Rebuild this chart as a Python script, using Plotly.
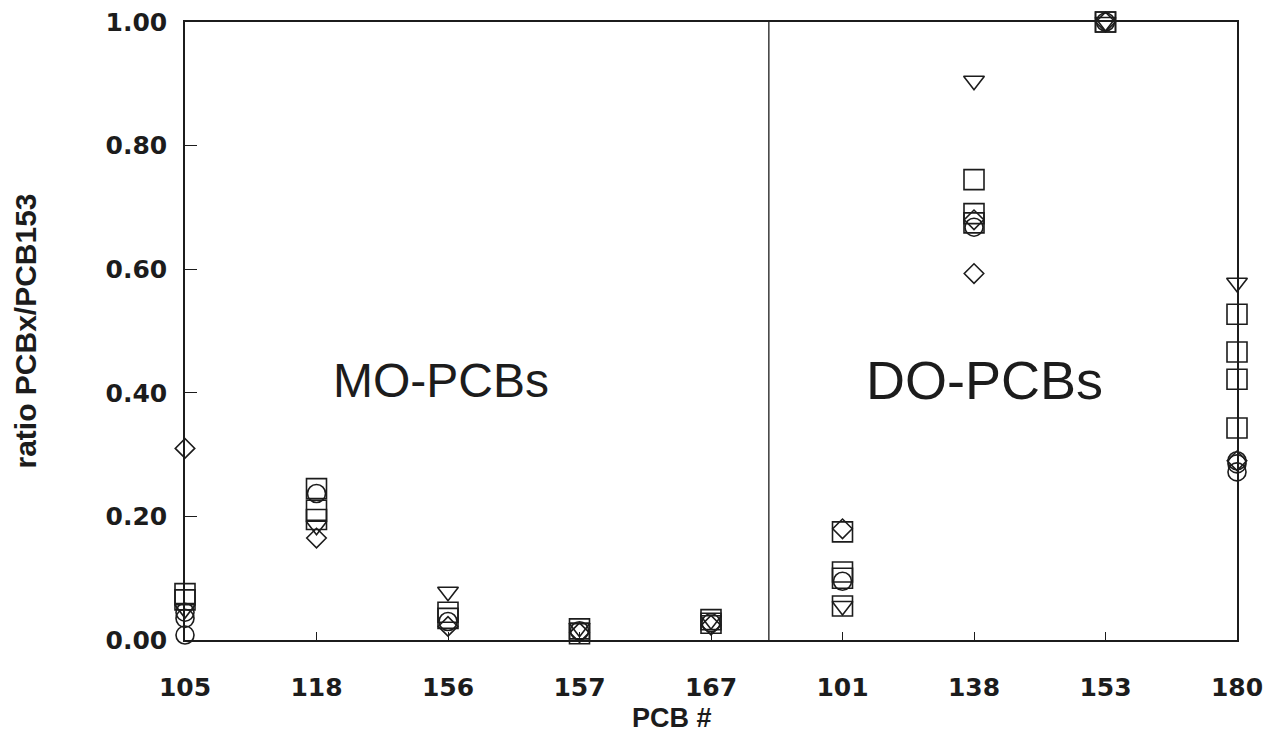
import plotly.graph_objects as go

categories = ["105", "118", "156", "157", "167", "101", "138", "153", "180"]
y_ticks = [0.0, 0.2, 0.4, 0.6, 0.8, 1.0]

square_cat = ["105", "105", "118", "118", "118", "156", "156", "157", "157", "167", "167",
              "101", "101", "101", "101", "138", "138", "138", "153", "153",
              "180", "180", "180", "180"]
square_val = [0.075, 0.065, 0.245, 0.21, 0.195, 0.045, 0.035, 0.018, 0.010, 0.033, 0.027,
              0.175, 0.11, 0.10, 0.055, 0.745, 0.69, 0.675, 1.0, 1.0,
              0.527, 0.466, 0.422, 0.343]

circle_cat = ["105", "105", "105", "118", "156", "157", "167", "101", "138", "153", "180", "180", "180"]
circle_val = [0.045, 0.035, 0.008, 0.237, 0.030, 0.015, 0.028, 0.095, 0.668, 1.0, 0.29, 0.285, 0.272]

triangle_cat = ["105", "118", "156", "157", "167", "101", "138", "153", "180"]
triangle_val = [0.050, 0.185, 0.078, 0.020, 0.032, 0.055, 0.905, 1.0, 0.578]

diamond_cat = ["105", "118", "156", "157", "167", "101", "138", "138", "153", "180"]
diamond_val = [0.31, 0.165, 0.022, 0.012, 0.024, 0.18, 0.593, 0.68, 1.0, 0.29]

group_labels = ["MO-PCBs", "DO-PCBs"]

pos = {c: i for i, c in enumerate(categories)}
ink = "#1c1c1c"

fig = go.Figure()

def add_series(cats, vals, symbol, size):
    fig.add_trace(go.Scatter(
        x=[pos[c] for c in cats], y=vals, mode="markers",
        marker=dict(symbol=symbol, size=size, color=ink,
                    line=dict(color=ink, width=1.6)),
        cliponaxis=False, showlegend=False))

add_series(square_cat, square_val, "square-open", 20)
add_series(circle_cat, circle_val, "circle-open", 18)
add_series(triangle_cat, triangle_val, "triangle-down-open", 18)
add_series(diamond_cat, diamond_val, "diamond-open", 15)

# divider between the two groups
fig.add_vline(x=4.44, line=dict(color=ink, width=1.3))

fig.add_annotation(x=1.95, y=0.42, xref="x", yref="y", text=group_labels[0],
                   showarrow=False, font=dict(family="Liberation Sans", size=48, color=ink))
fig.add_annotation(x=6.08, y=0.42, xref="x", yref="y", text=group_labels[1],
                   showarrow=False, font=dict(family="Liberation Sans", size=54, color=ink))

# x-axis title
fig.add_annotation(x=0.463, y=-0.127, xref="paper", yref="paper", text="<b>PCB #</b>",
                   showarrow=False, yanchor="middle",
                   font=dict(family="Liberation Sans", size=27, color=ink))

fig.update_layout(
    width=1266, height=742,
    margin=dict(l=185, r=29, t=22, b=102),
    paper_bgcolor="white", plot_bgcolor="white",
    font=dict(family="DejaVu Sans", color=ink),
)
fig.update_xaxes(
    range=[0, len(categories) - 1],
    tickvals=list(range(len(categories))), ticktext=categories,
    tickfont=dict(family="DejaVu Sans", size=25, weight="bold"),
    ticks="inside", ticklen=8, tickwidth=1.3, tickcolor=ink,
    showline=True, mirror=True, linecolor=ink, linewidth=1.5,
    showgrid=False, zeroline=False, ticklabelstandoff=24, automargin=False,
)
fig.update_yaxes(
    range=[0, 1.0],
    tickvals=y_ticks, tickformat=".2f",
    tickfont=dict(family="DejaVu Sans", size=25, weight="bold"),
    ticks="inside", ticklen=12, tickwidth=1.3, tickcolor=ink,
    showline=True, mirror=True, linecolor=ink, linewidth=1.5,
    showgrid=False, zeroline=False, ticklabelstandoff=11, automargin=False,
    title=dict(text="<b>ratio PCBx/PCB153</b>", font=dict(family="Liberation Sans", size=30), standoff=60),
)

fig.write_html("out.html", config={"displayModeBar": False},
               post_script="document.body.style.margin='0';document.body.style.overflow='hidden';")
